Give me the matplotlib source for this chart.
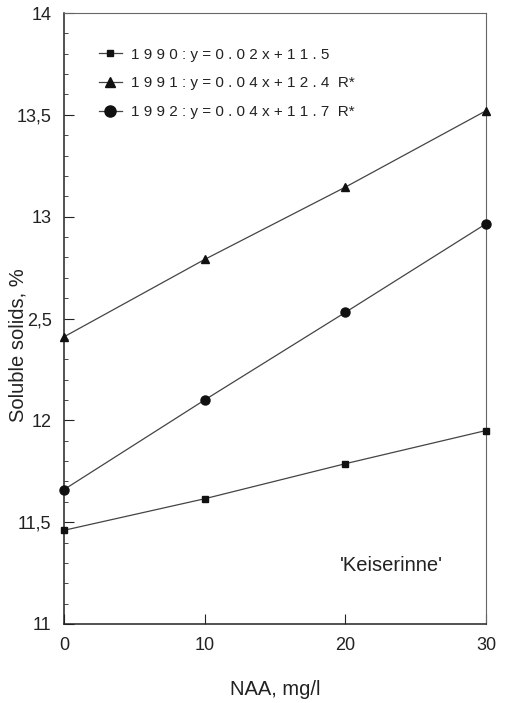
import matplotlib
matplotlib.use("Agg")
import matplotlib.pyplot as plt
from matplotlib.ticker import MultipleLocator, FixedLocator
from matplotlib.lines import Line2D

plt.rcParams['font.family'] = ['Liberation Sans', 'DejaVu Sans']

naa = [0, 10, 20, 30]
y1990 = [11.46, 11.615, 11.787, 11.95]
y1991 = [12.41, 12.79, 13.145, 13.52]
y1992 = [11.66, 12.10, 12.53, 12.965]

legend_labels = ["1990:y=0.02x+11.5", "1991:y=0.04x+12.4", "1992:y=0.04x+11.7"]
legend_suffix = ["", "R*", "R*"]
yticks = [11, 11.5, 12, 12.5, 13, 13.5, 14]
ytick_labels = ["11", "11,5", "12", "2,5", "13", "13,5", "14"]
xticks = [0, 10, 20, 30]

W, H = 505, 703
fig = plt.figure(figsize=(W / 100, H / 100), dpi=100)
ax = fig.add_axes([64 / W, 1 - 624 / H, (486 - 64) / W, (624 - 13) / H])

lc = '#444444'
mc = '#111111'
ax.plot(naa, y1990, color=lc, lw=0.9, marker='s', ms=4.5, mfc=mc, mec=mc, clip_on=False, zorder=3)
ax.plot(naa, y1991, color=lc, lw=0.9, marker='^', ms=6, mfc=mc, mec=mc, clip_on=False, zorder=3)
ax.plot(naa, y1992, color=lc, lw=0.9, marker='o', ms=6.5, mfc=mc, mec=mc, clip_on=False, zorder=3)

ax.set_xlim(0, 30)
ax.set_ylim(11, 14)
ax.yaxis.set_major_locator(FixedLocator(yticks))
ax.set_yticklabels(ytick_labels)
ax.yaxis.set_minor_locator(MultipleLocator(0.1))
ax.xaxis.set_major_locator(FixedLocator(xticks))
ax.set_xticklabels([str(v) for v in xticks])

ax.tick_params(axis='both', which='major', direction='in', length=7, width=0.8,
               labelsize=13, colors='#222')
ax.tick_params(axis='y', which='major', pad=9)
ax.tick_params(axis='x', which='major', pad=9)
ax.tick_params(axis='y', which='minor', direction='in', length=3, width=0.7, color='#444')

for side in ['left', 'bottom']:
    ax.spines[side].set_linewidth(1.1)
    ax.spines[side].set_color('#222')
for side in ['top', 'right']:
    ax.spines[side].set_linewidth(0.8)
    ax.spines[side].set_color('#666')

ax.set_xlabel("NAA, mg/l", fontsize=14.5, color='#222')
ax.xaxis.label.set_va('center')
ax.xaxis.set_label_coords(0.5, -0.108)
ax.set_ylabel("Soluble solids, %", fontsize=14.5, color='#222')
ax.yaxis.set_label_coords(-0.086, 0.457)

ax.text(19.6, 11.285, "'Keiserinne'", fontsize=14.5, color='#222', va='center', ha='left')


def spaced(s):
    return " ".join(s)


labels = []
for lab, suf in zip(legend_labels, legend_suffix):
    t = spaced(lab)
    if suf:
        t = t + "  " + suf
    labels.append(t)

handles = [
    Line2D([], [], color=lc, lw=0.9, marker='s', ms=5, mfc=mc, mec=mc),
    Line2D([], [], color=lc, lw=0.9, marker='^', ms=7, mfc=mc, mec=mc),
    Line2D([], [], color=lc, lw=0.9, marker='o', ms=8, mfc=mc, mec=mc),
]
leg = ax.legend(handles, labels, loc='upper left', bbox_to_anchor=(0.068, 0.953),
                frameon=False, fontsize=11, handlelength=1.5, handletextpad=0.6,
                labelspacing=0.95, borderaxespad=0)
for t in leg.get_texts():
    t.set_color('#222')

fig.savefig("out.png", dpi=100, facecolor='white')
